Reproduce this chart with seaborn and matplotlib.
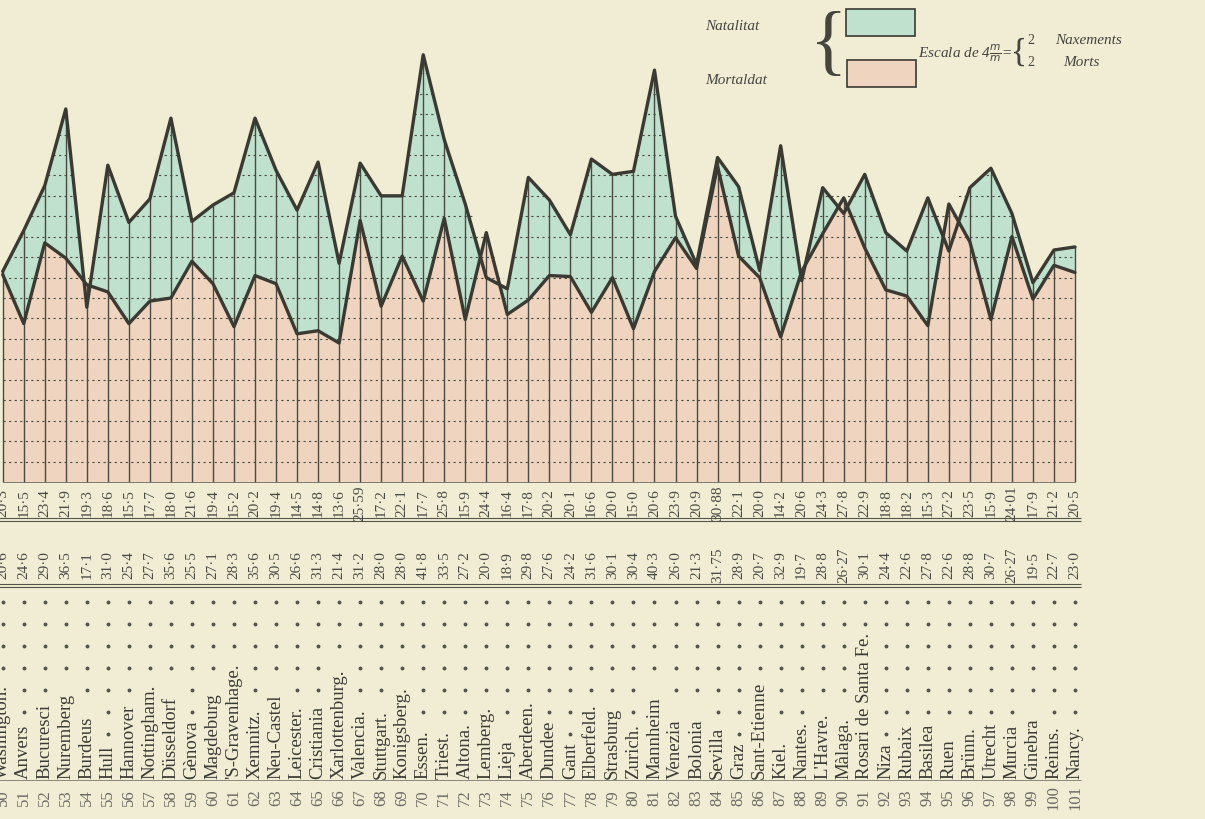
import numpy as np
import pandas as pd
import seaborn as sns
import matplotlib
matplotlib.use("Agg")
from matplotlib import pyplot as plt
from matplotlib.patches import Polygon, Rectangle

# numero d'ordre de cada ciutat
nums = list(range(50, 102))

ciutats = ["Washington.", "Anvers", "Bucuresci", "Nuremberg", "Burdeus", "Hull",
           "Hannover", "Nottingham.", "Düsseldorf", "Gènova", "Magdeburg",
           "'S-Gravenhage.", "Xemnitz.", "Neu-Castel", "Leicester.", "Cristiania",
           "Xarlottenburg.", "Valencia.", "Stuttgart.", "Konigsberg.", "Essen.",
           "Triest.", "Altona.", "Lemberg.", "Lieja", "Aberdeen.", "Dundee", "Gant",
           "Elberfeld.", "Strasburg", "Zurich.", "Mannheim", "Venezia", "Bolonia",
           "Sevilla", "Graz", "Sant-Etienne", "Kiel.", "Nantes.", "L'Havre.",
           "Màlaga.", "Rosari de Santa Fe.", "Niza", "Rubaix", "Basilea", "Ruen",
           "Brünn.", "Utrecht", "Murcia", "Ginebra", "Reims.", "Nancy."]

natalitat = [20.6, 24.6, 29.0, 36.5, 17.1, 31.0, 25.4, 27.7, 35.6, 25.5, 27.1,
             28.3, 35.6, 30.5, 26.6, 31.3, 21.4, 31.2, 28.0, 28.0, 41.8, 33.5,
             27.2, 20.0, 18.9, 29.8, 27.6, 24.2, 31.6, 30.1, 30.4, 40.3, 26.0,
             21.3, 31.75, 28.9, 20.7, 32.9, 19.7, 28.8, 26.27, 30.1, 24.4, 22.6,
             27.8, 22.6, 28.8, 30.7, 26.27, 19.5, 22.7, 23.0]

mortalitat = [20.3, 15.5, 23.4, 21.9, 19.3, 18.6, 15.5, 17.7, 18.0, 21.6, 19.4,
              15.2, 20.2, 19.4, 14.5, 14.8, 13.6, 25.59, 17.2, 22.1, 17.7, 25.8,
              15.9, 24.4, 16.4, 17.8, 20.2, 20.1, 16.6, 20.0, 15.0, 20.6, 23.9,
              20.9, 30.88, 22.1, 20.0, 14.2, 20.6, 24.3, 27.8, 22.9, 18.8, 18.2,
              15.3, 27.2, 23.5, 15.9, 24.01, 17.9, 21.2, 20.5]

BG = "#f0edd4"
VERD = "#c0e1cd"
ROSA = "#efd5bf"
TINTA = "#3a3a32"

sns.set_theme(style="white")
plt.rcParams["font.family"] = ["Liberation Serif", "DejaVu Serif"]

W, H = 1205, 820
Y0 = 483      # pixel of the zero line
K = 10.22     # pixels per unit


def py(p):
    # pixel row (from top) -> data y
    return (Y0 - p) / K


def fx(p):
    return p / W


def fy(p):
    return 1 - p / H


fig = plt.figure(figsize=(W / 100, H / 100), dpi=100, facecolor=BG)
ax = fig.add_axes([0, 0, 1, 1])
ax.set_facecolor(BG)
upx = 51 / (1075 - 2.7)
XL = (50 - 2.7 * upx, 50 + (W - 2.7) * upx)

x = np.array(nums, dtype=float)
nat = np.array(natalitat)
mort = np.array(mortalitat)
top = np.maximum(nat, mort)

# fills
ax.fill_between(x, 0, mort, color=ROSA, lw=0, zorder=1)
ax.fill_between(x, mort, nat, where=nat >= mort, interpolate=True,
                color=VERD, lw=0, zorder=1)

# grid: vertical lines up to the upper curve, dotted horizontals clipped
ax.vlines(x, 0, top, color="#4a4a42", lw=1.0, zorder=2)
clip = Polygon([(x[0], 0)] + list(zip(x, top)) + [(x[-1], 0)], closed=True,
               facecolor="none", edgecolor="none")
ax.add_patch(clip)
hl = ax.hlines(np.arange(2, 44, 2), x[0], x[-1], color="#4a4a42", lw=0.8,
               linestyles=(0, (2, 3)), zorder=2)
hl.set_clip_path(clip)
ax.hlines(0, x[0], x[-1], color="#6a6a60", lw=0.6, zorder=2)

df = pd.DataFrame({
    "num": nums * 2,
    "taxa": natalitat + mortalitat,
    "serie": ["Natalitat"] * len(nums) + ["Mortaldat"] * len(nums),
})
sns.lineplot(data=df, x="num", y="taxa", hue="serie", ax=ax, legend=False,
             palette={"Natalitat": TINTA, "Mortaldat": TINTA}, lw=2.4,
             sort=False, zorder=4)
ax.set_xlim(*XL)
ax.set_ylim(py(H), py(0))
ax.axis("off")

# table below the chart
def fmt(v):
    return str(v).replace(".", "·")

for i, n in enumerate(nums):
    ax.text(n, py(503), fmt(mortalitat[i]), rotation=90, ha="center",
            va="center", fontsize=11, color="#4a4a44")
    ax.text(n, py(565), fmt(natalitat[i]), rotation=90, ha="center",
            va="center", fontsize=11, color="#4a4a44")
    ax.text(n, py(798), str(n), rotation=90, ha="center", va="center",
            fontsize=12, color="#6a6a62")

xl, xr = x[0] - 0.5, x[-1] + 0.3
for p in (519, 522, 585, 588):
    ax.hlines(py(p), xl, xr, color="#55554c", lw=0.8)
ax.hlines(py(781), xl, xr, color="#77776c", lw=0.6)

noms = []
for i, n in enumerate(nums):
    t = ax.text(n, py(779), ciutats[i], rotation=90, ha="center", va="bottom",
                fontsize=13.5, color="#3a3a34")
    noms.append(t)

fig.canvas.draw()
rend = fig.canvas.get_renderer()
dot_rows = [603 + 22 * k for k in range(9)]
for n, t in zip(nums, noms):
    bb = t.get_window_extent(rend)
    top_px = H - bb.y1
    ys = [py(r) for r in dot_rows if r < top_px - 7]
    ax.plot([n] * len(ys), ys, "o", ms=1.8, color="#55554c", lw=0)

# legend / scale, top right
fig.text(fx(705), fy(26), "Natalitat", style="italic", fontsize=11,
         color="#45453e", va="center")
fig.text(fx(705), fy(80), "Mortaldat", style="italic", fontsize=11,
         color="#45453e", va="center")
fig.text(fx(810), fy(47), "{", fontsize=56, color="#45453e", va="center",
         ha="left", fontweight="light")
fig.add_artist(Rectangle((fx(846), fy(37)), fx(69), 27 / H, facecolor=VERD,
                         edgecolor="#3a3a34", lw=1.2, transform=fig.transFigure))
fig.add_artist(Rectangle((fx(847), fy(88)), fx(69), 27 / H, facecolor=ROSA,
                         edgecolor="#3a3a34", lw=1.2, transform=fig.transFigure))
fig.text(fx(918), fy(53), r"Escala de 4$\frac{m}{m}$=", style="italic",
         fontsize=11, color="#45453e", va="center")
fig.text(fx(1011), fy(52), "{", fontsize=24, color="#45453e", va="center",
         fontweight="light")
fig.text(fx(1027), fy(41), "2", fontsize=10, color="#45453e", va="center")
fig.text(fx(1027), fy(63), "2", fontsize=10, color="#45453e", va="center")
fig.text(fx(1055), fy(40), "Naxements", style="italic", fontsize=11,
         color="#45453e", va="center")
fig.text(fx(1063), fy(62), "Morts", style="italic", fontsize=11,
         color="#45453e", va="center")

fig.savefig("out.png", dpi=100, facecolor=BG)
